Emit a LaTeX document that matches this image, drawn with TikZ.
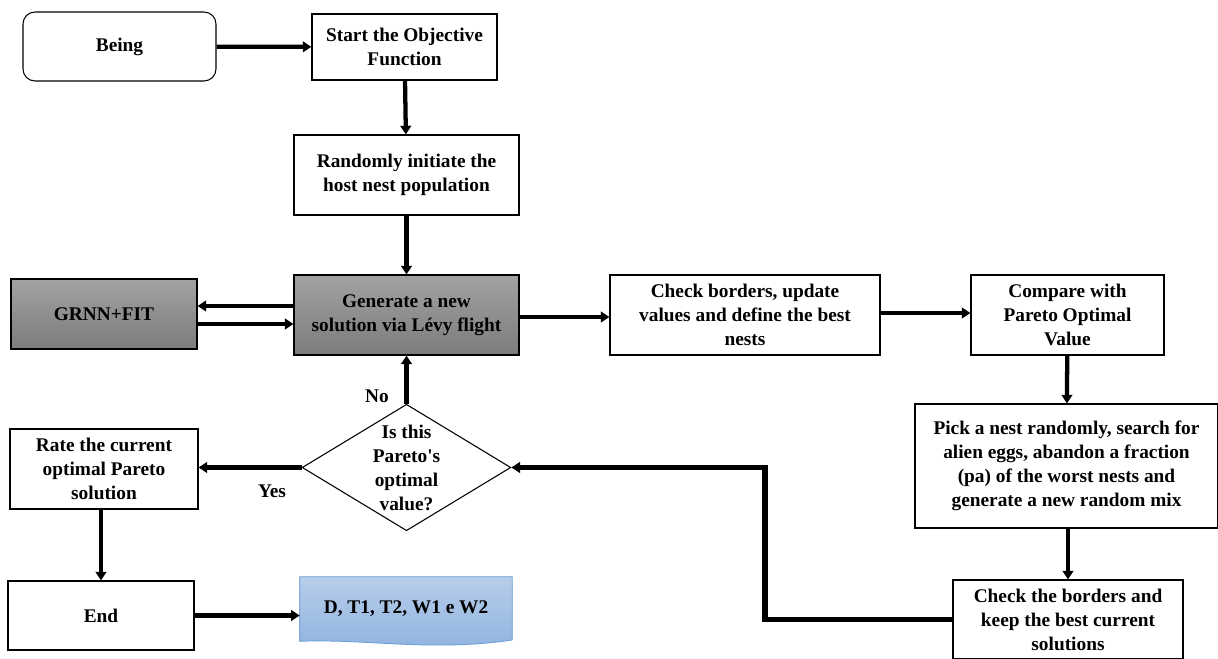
\documentclass[tikz,border=0pt]{standalone}
\usepackage{fontspec}
\setmainfont{Liberation Serif}
\usetikzlibrary{arrows.meta,shapes.geometric}

\definecolor{boxgrayA}{HTML}{A2A2A2}
\definecolor{boxgrayB}{HTML}{7C7C7C}
\definecolor{docblueA}{HTML}{B7CDEA}
\definecolor{docblueB}{HTML}{8FB3DF}
\definecolor{docline}{HTML}{6E9FD6}

\begin{document}
\begin{tikzpicture}[x=0.75pt,y=-0.75pt,font=\fontsize{14.5}{18}\selectfont\bfseries]
		\tikzstyle{block}=[draw,line width=0.8pt,align=center,inner sep=2pt]
		\tikzstyle{darkblock}=[block,top color=boxgrayA,bottom color=boxgrayB]
		\tikzstyle{decide}=[draw,line width=0.8pt,diamond,aspect=1.65,align=center,inner sep=0pt]
		\tikzstyle{flow}=[line width=3.2pt,-{Triangle[length=6.5pt,width=8pt]}]

		\clip (0,0) rectangle (1218,659);
		\useasboundingbox (0,0) rectangle (1218,659);

		\node[block,rounded corners=9pt,minimum width=144.75pt,minimum height=51.75pt] (being) at (119.5,46.5) {Being};
		\node[block,minimum width=138.75pt,minimum height=49.5pt] (start) at (404.5,47) {Start the Objective\\Function};
		\node[block,minimum width=168.75pt,minimum height=60pt] (init) at (406.5,175) {Randomly initiate the\\host nest population};
		\node[darkblock,minimum width=168.75pt,minimum height=60pt] (gen) at (406.5,315) {Generate a new\\solution via L\'evy flight};
		\node[darkblock,minimum width=139.5pt,minimum height=52.5pt] (grnn) at (104,314) {GRNN+FIT};
		\node[block,minimum width=202.5pt,minimum height=60pt] (check) at (745,315) {Check borders, update\\values and define the best\\nests};
		\node[block,minimum width=144.75pt,minimum height=60pt] (compare) at (1067.5,315) {Compare with\\Pareto Optimal\\Value};
		\node[block,minimum width=227.25pt,minimum height=93pt] (pick) at (1066.5,466) {Pick a nest randomly, search for\\alien eggs, abandon a fraction\\(pa) of the worst nests and\\generate a new random mix};
		\node[block,minimum width=172.5pt,minimum height=59.25pt] (keep) at (1068,619.5) {Check the borders and\\keep the best current\\solutions};
		\node[decide,minimum width=156pt,minimum height=94.5pt] (pareto) at (406.5,467.5) {Is this\\Pareto\textquotesingle s\\optimal\\value?};
		\node[block,minimum width=141pt,minimum height=60pt] (rate) at (104,469) {Rate the current\\optimal Pareto\\solution};
		\node[block,minimum width=139.5pt,minimum height=51.75pt] (end) at (101,615.5) {End};
		\node[minimum width=159pt,minimum height=42pt,inner sep=0pt] (out) at (406,605) {};

		% document shape
		\shade[top color=docblueA,bottom color=docblueB,draw=docline,line width=0.7pt]
			(out.north west) -- (out.north east) -- ([yshift=-5pt]out.south east)
			.. controls ([xshift=-60pt,yshift=-14pt]out.south east) and ([xshift=50pt,yshift=-4pt]out.south west) .. ([yshift=-6pt]out.south west) -- cycle;
		\node at ([yshift=-3pt]out.center) {D, T1, T2, W1 e W2};

		\coordinate (bend) at (765,0);

		\draw[flow] (being) -- (start);
		\draw[flow] (start) -- (init);
		\draw[flow] (init) -- (gen);
		\draw[flow] ([yshift=6.75pt]gen.west) -- ([yshift=6.75pt]grnn.east |- gen.west);
		\draw[flow] ([yshift=-6.75pt]grnn.east |- gen.west) -- ([yshift=-6.75pt]gen.west);
		\draw[flow] ([yshift=-1.5pt]gen.east) -- ([yshift=-1.5pt]check.west);
		\draw[flow] ([yshift=1.5pt]check.east) -- ([yshift=1.5pt]compare.west);
		\draw[flow] (compare) -- (pick);
		\draw[flow] (pick.south -| keep.north) -- (keep.north);
		\draw[flow,line width=4pt] (keep.west) -| (bend |- pareto.east) -- (pareto.east);
		\draw[flow] (pareto.north) -- (gen.south);
		\draw[flow] (pareto.west) -- (rate.east |- pareto.west);
		\draw[flow] (rate.south -| end.north) -- (end.north);
		\draw[flow] (end.east) -- (out.west |- end.east);

		\node at (377,396) {No};
		\node at (272,491) {Yes};
	\end{tikzpicture}
\end{document}
